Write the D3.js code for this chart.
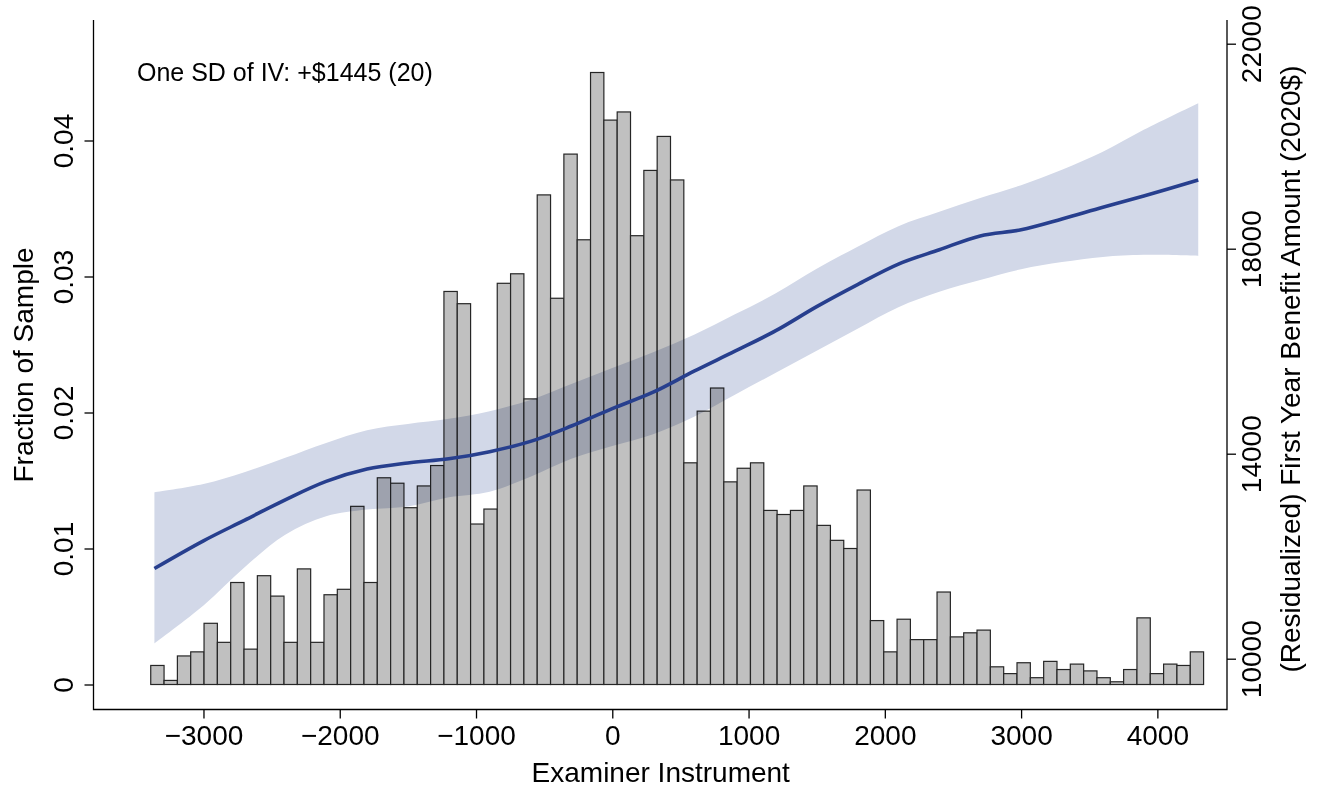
<!DOCTYPE html>
<html>
<head>
<meta charset="utf-8">
<script src="https://cdn.jsdelivr.net/npm/d3@7"></script>
<style>
  body { margin: 0; background: #fff; }
  svg { display: block; font-family: "Liberation Sans", Arial, Helvetica, sans-serif; }
</style>
</head>
<body>
<svg id="chart" width="1320" height="788"></svg>
<script>
// histogram: 79 bins of the examiner instrument
const binStart = -3387;
const binWidth = 97.8;
const fractions = [
  0.0014, 0.0003, 0.0021, 0.0024, 0.0045, 0.0031, 0.0075, 0.0026, 0.0080, 0.0065,
  0.0031, 0.0085, 0.0031, 0.0066, 0.0070, 0.0131, 0.0075, 0.0152, 0.0148, 0.0130,
  0.0146, 0.0161, 0.0289, 0.0280, 0.0118, 0.0129, 0.0295, 0.0302, 0.0210, 0.0360,
  0.0284, 0.0390, 0.0327, 0.0450, 0.0415, 0.0421, 0.0330, 0.0378, 0.0403, 0.0371,
  0.0163, 0.0201, 0.0218, 0.0149, 0.0159, 0.0163, 0.0128, 0.0125, 0.0128, 0.0146,
  0.0117, 0.0106, 0.0100, 0.0143, 0.0047, 0.0024, 0.0048, 0.0033, 0.0033, 0.0068,
  0.0035, 0.0038, 0.0040, 0.0013, 0.0008, 0.0016, 0.0005, 0.0017, 0.0011, 0.0015,
  0.0010, 0.0005, 0.0002, 0.0011, 0.0049, 0.0008, 0.0015, 0.0014, 0.0024
];

// local linear fit of first year benefit amount, with confidence band
const fitX = [-3360, -3000, -2700, -2400, -2100, -1800, -1500, -1200, -900, -600, -300, 0,
  300, 600, 900, 1200, 1500, 1800, 2100, 2400, 2700, 3000, 3300, 3600, 3900, 4300];
const fitMean = [11760, 12300, 12700, 13100, 13460, 13700, 13820, 13900, 14040, 14240, 14540, 14880,
  15200, 15610, 16000, 16400, 16870, 17300, 17700, 17980, 18250, 18370, 18580, 18810, 19030, 19340];
const fitLow = [10300, 11040, 11780, 12420, 12780, 12910, 12970, 13150, 13260, 13550, 13900, 14150,
  14380, 14720, 15150, 15580, 16010, 16440, 16860, 17160, 17390, 17600, 17740, 17840, 17880, 17860];
const fitHigh = [13250, 13410, 13640, 13920, 14210, 14460, 14580, 14680, 14830, 15050, 15360, 15670,
  15980, 16320, 16720, 17130, 17610, 18040, 18440, 18720, 18990, 19240, 19540, 19890, 20320, 20840];

const xTicks = [-3000, -2000, -1000, 0, 1000, 2000, 3000, 4000];
const leftTicks = [0, 0.01, 0.02, 0.03, 0.04];
const rightTicks = [10000, 14000, 18000, 22000];

const svg = d3.select("#chart");
const frame = { left: 93.5, right: 1227, top: 20, bottom: 709.5 };

const x = d3.scaleLinear().domain([-3807, 4511]).range([frame.left, frame.right]);
const yLeft = d3.scaleLinear().domain([0, 0.04]).range([684.5, 140.5]);
const yRight = d3.scaleLinear().domain([10000, 22000]).range([658.7, 43.7]);

svg.append("rect").attr("width", 1320).attr("height", 788).attr("fill", "#fff");

// bars
svg.append("g")
  .selectAll("rect")
  .data(fractions)
  .join("rect")
  .attr("x", (d, i) => x(binStart + i * binWidth))
  .attr("width", (d, i) => x(binStart + (i + 1) * binWidth) - x(binStart + i * binWidth))
  .attr("y", d => yLeft(d))
  .attr("height", d => yLeft(0) - yLeft(d))
  .attr("fill", "#c0c0c0")
  .attr("stroke", "#262626")
  .attr("stroke-width", 1.2);

const fit = fitX.map((v, i) => ({ x: v, mean: fitMean[i], lo: fitLow[i], hi: fitHigh[i] }));

// confidence band
const area = d3.area()
  .x(d => x(d.x))
  .y0(d => yRight(d.lo))
  .y1(d => yRight(d.hi))
  .curve(d3.curveCatmullRom);

svg.append("path")
  .datum(fit)
  .attr("d", area)
  .attr("fill", "#d2d8e8")
  .style("mix-blend-mode", "multiply");

// fitted line
const line = d3.line()
  .x(d => x(d.x))
  .y(d => yRight(d.mean))
  .curve(d3.curveCatmullRom);

svg.append("path")
  .datum(fit)
  .attr("d", line)
  .attr("fill", "none")
  .attr("stroke", "#273f8e")
  .attr("stroke-width", 3.6);

// axes
const fontSize = 28;

const gx = svg.append("g")
  .attr("transform", `translate(0,${frame.bottom})`)
  .call(d3.axisBottom(x).tickValues(xTicks).tickSize(9).tickSizeOuter(0).tickPadding(7)
    .tickFormat(d3.format("d")));
gx.select(".domain").remove();

const gl = svg.append("g")
  .attr("transform", `translate(${frame.left},0)`)
  .call(d3.axisLeft(yLeft).tickValues(leftTicks).tickSize(9).tickSizeOuter(0)
    .tickFormat(d => d === 0 ? "0" : d3.format(".2f")(d)));
gl.select(".domain").remove();
gl.selectAll(".tick text")
  .attr("x", null).attr("dy", null)
  .attr("text-anchor", "middle")
  .attr("transform", "translate(-20.5,0) rotate(-90)");

const gr = svg.append("g")
  .attr("transform", `translate(${frame.right},0)`)
  .call(d3.axisRight(yRight).tickValues(rightTicks).tickSize(9).tickSizeOuter(0)
    .tickFormat(d3.format("d")));
gr.select(".domain").remove();
gr.selectAll(".tick text")
  .attr("x", null).attr("dy", null)
  .attr("text-anchor", "middle")
  .attr("transform", "translate(34,0) rotate(-90)");

[gx, gl, gr].forEach(g => {
  g.attr("font-size", fontSize).attr("font-family", null);
  g.selectAll(".tick line").attr("stroke", "#000").attr("stroke-width", 1.3);
  g.selectAll(".tick text").attr("fill", "#000");
});

// frame lines (left, bottom, right)
svg.append("path")
  .attr("d", `M${frame.left},${frame.top}V${frame.bottom}H${frame.right}V${frame.top}`)
  .attr("fill", "none")
  .attr("stroke", "#000")
  .attr("stroke-width", 1.3);

// titles
svg.append("text")
  .attr("x", (frame.left + frame.right) / 2 + 0.5)
  .attr("y", 782)
  .attr("text-anchor", "middle")
  .attr("font-size", fontSize)
  .text("Examiner Instrument");

svg.append("text")
  .attr("transform", "translate(33,365) rotate(-90)")
  .attr("text-anchor", "middle")
  .attr("font-size", fontSize)
  .text("Fraction of Sample");

svg.append("text")
  .attr("transform", "translate(1300,369) rotate(-90)")
  .attr("text-anchor", "middle")
  .attr("font-size", fontSize)
  .text("(Residualized) First Year Benefit Amount (2020$)");

svg.append("text")
  .attr("x", 137)
  .attr("y", 81)
  .attr("font-size", 25)
  .text("One SD of IV: +$1445 (20)");
</script>
</body>
</html>
